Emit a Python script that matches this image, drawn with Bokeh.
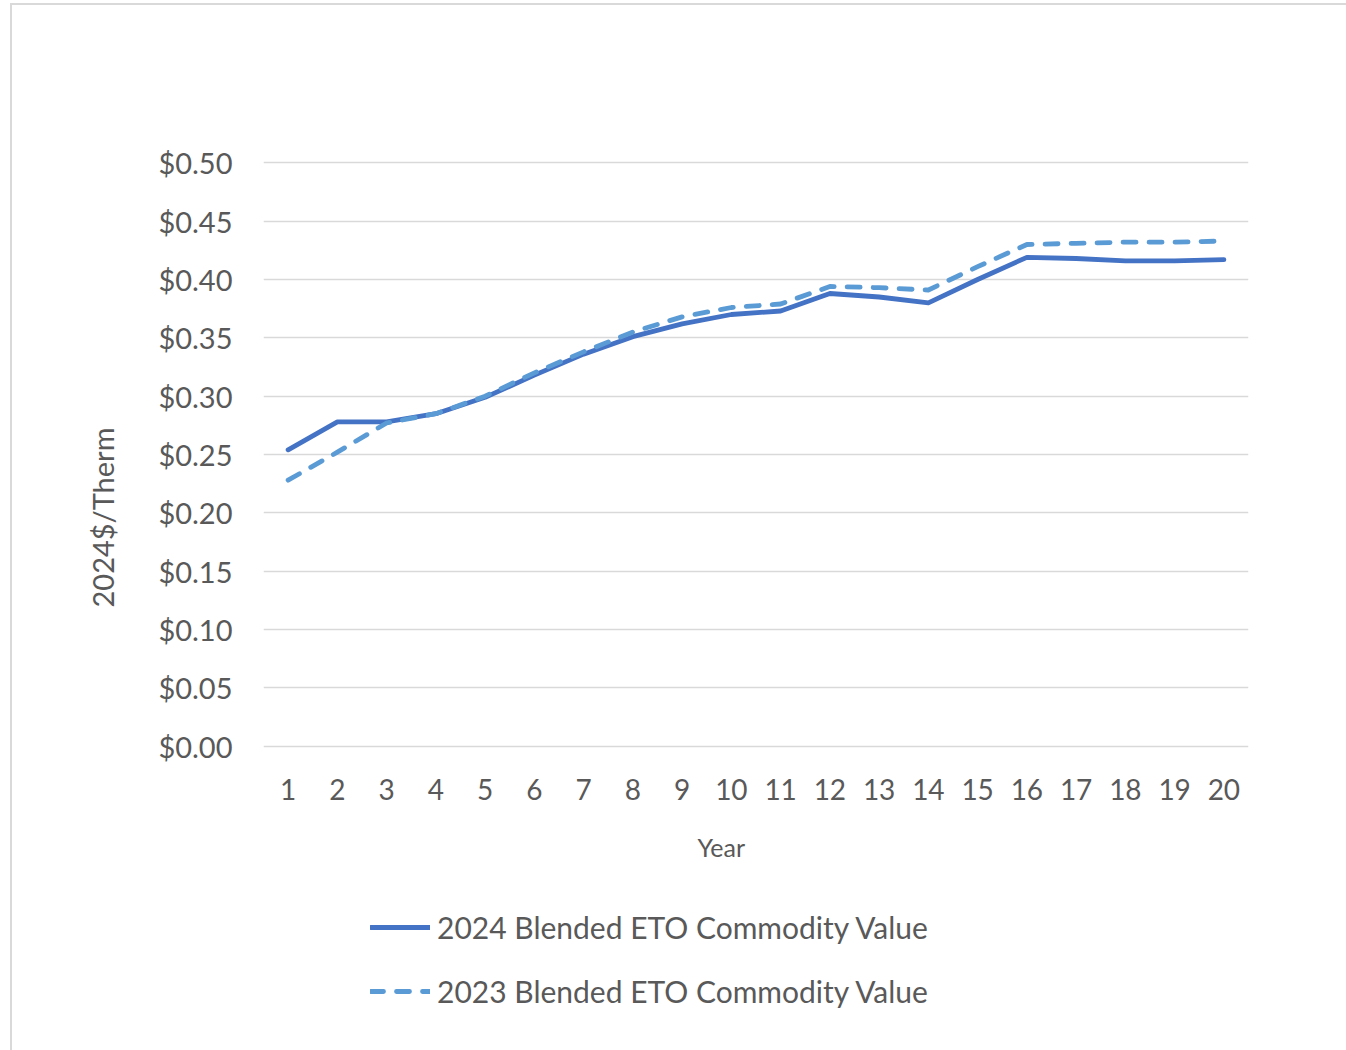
from bokeh.plotting import figure
from bokeh.layouts import column
from bokeh.models import FixedTicker, Legend, LegendItem, Range1d, NumeralTickFormatter, Title
from bokeh.embed import file_html
from bokeh.resources import INLINE

years = list(range(1, 21))
value_2024 = [0.254, 0.278, 0.278, 0.285, 0.299, 0.318, 0.336, 0.351, 0.362, 0.370,
              0.373, 0.388, 0.385, 0.380, 0.400, 0.419, 0.418, 0.416, 0.416, 0.417]
value_2023 = [0.228, 0.252, 0.277, 0.285, 0.300, 0.320, 0.338, 0.355, 0.368, 0.376,
              0.379, 0.394, 0.393, 0.391, 0.411, 0.430, 0.431, 0.432, 0.432, 0.433]
y_ticks = [0.0, 0.05, 0.10, 0.15, 0.20, 0.25, 0.30, 0.35, 0.40, 0.45, 0.50]
series_names = ["2024 Blended ETO Commodity Value", "2023 Blended ETO Commodity Value"]

FONT = "Lato"
TEXT = "#595959"
GRID = "#d9d9d9"
C24 = "#4472C4"
C23 = "#5B9BD5"
DASH = "13 13"
LW = 4.8

# ---- chart ----
p = figure(width=1334, height=886, output_backend="svg", toolbar_location=None,
           x_range=Range1d(0.5, 20.5), y_range=Range1d(-0.002, 0.502),
           min_border_left=251, min_border_right=98, min_border_top=155,
           min_border_bottom=143)
p.outline_line_color = None
p.background_fill_color = "white"
p.border_fill_color = "white"

p.xgrid.grid_line_color = None
p.ygrid.grid_line_color = GRID
p.ygrid.grid_line_width = 1.5

p.xaxis.ticker = FixedTicker(ticks=years)
p.yaxis.ticker = FixedTicker(ticks=y_ticks)
p.yaxis.formatter = NumeralTickFormatter(format="$0.00")

for ax in (p.xaxis, p.yaxis):
    ax.axis_line_color = None
    ax.major_tick_line_color = None
    ax.minor_tick_line_color = None
    ax.major_tick_out = 0
    ax.major_tick_in = 0
    ax.major_label_text_font = FONT
    ax.major_label_text_color = TEXT

p.xaxis.major_label_text_font_size = "28px"
p.xaxis.major_label_standoff = 30
p.yaxis.major_label_text_font_size = "29px"
p.yaxis.major_label_standoff = 31

# axis titles, each set a little off the middle of its axis
xtitle = Title(text="Year", align="left", offset=434, standoff=54,
               text_font=FONT, text_font_size="25px", text_color=TEXT,
               text_font_style="normal")
p.add_layout(xtitle, "below")

ytitle = Title(text="2024$/Therm", align="left", offset=141, standoff=72,
               text_font=FONT, text_font_size="29px", text_color=TEXT,
               text_font_style="normal")
p.add_layout(ytitle, "left")

p.line(years, value_2024, line_color=C24, line_width=LW, line_join="round", line_cap="round")
p.line(years, value_2023, line_color=C23, line_width=LW, line_join="round", line_cap="round",
       line_dash=DASH)

# ---- legend strip under the chart (its lines sit outside its visible range) ----
lg = figure(width=1334, height=159, output_backend="svg", toolbar_location=None,
            x_range=Range1d(100, 101), y_range=Range1d(100, 101),
            min_border_left=0, min_border_right=0, min_border_top=0, min_border_bottom=0)
lg.axis.visible = False
lg.grid.visible = False
lg.outline_line_color = None
lg.border_fill_color = "white"
k24 = lg.line(years, value_2024, line_color=C24, line_width=LW, line_cap="round")
k23 = lg.line(years, value_2023, line_color=C23, line_width=LW, line_cap="round",
              line_dash=DASH)

legend = Legend(items=[LegendItem(label=series_names[0], renderers=[k24]),
                       LegendItem(label=series_names[1], renderers=[k23])],
                location=(107, 41), orientation="vertical",
                glyph_width=60, glyph_height=30, label_height=30, spacing=28,
                label_standoff=7, padding=0, margin=0,
                label_text_font=FONT, label_text_font_size="30px",
                label_text_color=TEXT, border_line_color=None,
                background_fill_alpha=0)
lg.add_layout(legend, "center")

page = column(p, lg, spacing=0)
page.margin = (3, 0, 0, 10)
page.styles = {"border-top": f"2px solid {GRID}", "border-left": f"2px solid {GRID}"}

open("out.html", "w").write(file_html(page, INLINE))
